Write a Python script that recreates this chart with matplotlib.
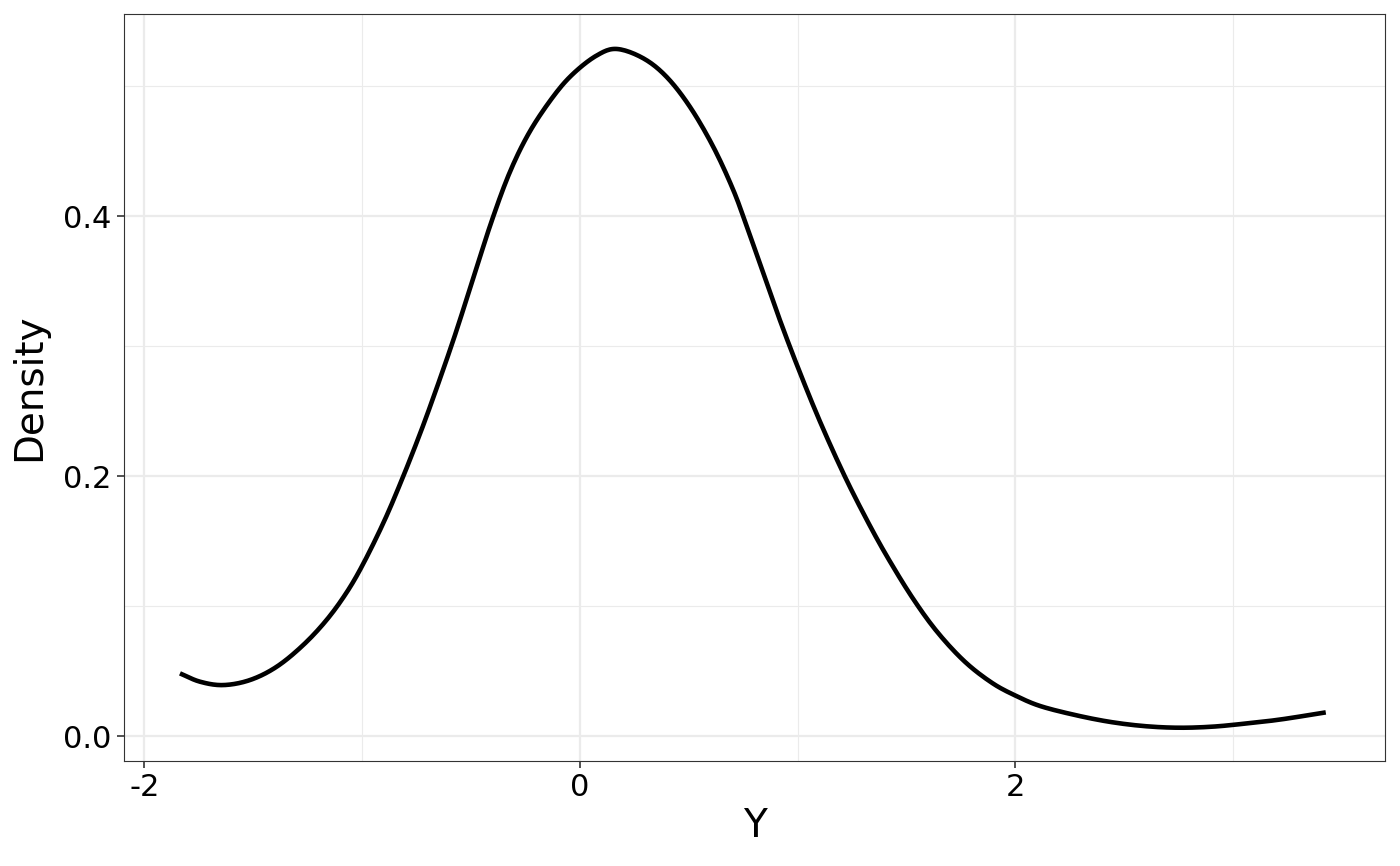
import numpy as np
import matplotlib.pyplot as plt
from matplotlib.ticker import MultipleLocator

# density curve
y_vals = [-1.837, -1.745, -1.638, -1.515, -1.393, -1.271, -1.163, -1.071, -0.995, -0.903,
          -0.827, -0.75, -0.681, -0.582, -0.49, -0.406, -0.321, -0.23, -0.122, -0.031,
          0.077, 0.169, 0.291, 0.398, 0.505, 0.612, 0.704, 0.766, 0.842, 0.918,
          1.003, 1.102, 1.216, 1.326, 1.42, 1.531, 1.642, 1.768, 1.894, 2.005,
          2.115, 2.273, 2.43, 2.588, 2.746, 2.904, 3.062, 3.22, 3.425]
density = [0.0482, 0.0418, 0.0392, 0.0431, 0.0533, 0.070, 0.0894, 0.1106, 0.1326, 0.1639,
           0.1935, 0.2258, 0.2569, 0.3044, 0.3522, 0.3959, 0.4342, 0.4651, 0.4921, 0.5095,
           0.5235, 0.5285, 0.5213, 0.507, 0.484, 0.4533, 0.42, 0.392, 0.356, 0.32,
           0.2826, 0.242, 0.1998, 0.1635, 0.1353, 0.1053, 0.0798, 0.0571, 0.0407, 0.0307,
           0.023, 0.0162, 0.011, 0.0077, 0.0064, 0.0072, 0.0097, 0.0128, 0.0182]

x_ticks = [-2, 0, 2]
x_labels = ['-2', '0', '2']
y_ticks = [0.0, 0.2, 0.4]
y_labels = ['0.0', '0.2', '0.4']

plt.rcParams['font.family'] = ['DejaVu Sans']


def catmull(px, py, n=12):
    # smooth drawing path through the traced points
    px = np.concatenate([[2 * px[0] - px[1]], px, [2 * px[-1] - px[-2]]])
    py = np.concatenate([[2 * py[0] - py[1]], py, [2 * py[-1] - py[-2]]])
    ox, oy = [], []
    for i in range(1, len(px) - 2):
        for s in np.linspace(0, 1, n, endpoint=False):
            for arr, out in ((px, ox), (py, oy)):
                p0, p1, p2, p3 = arr[i - 1], arr[i], arr[i + 1], arr[i + 2]
                out.append(0.5 * (2 * p1 + (-p0 + p2) * s
                                  + (2 * p0 - 5 * p1 + 4 * p2 - p3) * s ** 2
                                  + (-p0 + 3 * p1 - 3 * p2 + p3) * s ** 3))
    ox.append(px[-2])
    oy.append(py[-2])
    return ox, oy


fig = plt.figure(figsize=(14, 8.66), dpi=100)
ax = fig.add_axes([124 / 1400, 1 - 761 / 866, (1385 - 124) / 1400, (761 - 14) / 866])

cx, cy = catmull(np.array(y_vals), np.array(density))
ax.plot(cx, cy, color='black', lw=3.3, solid_capstyle='butt', zorder=3)

ax.set_xlim(-2.094, 3.697)
ax.set_ylim(-0.0192, 0.5554)
ax.set_xticks(x_ticks)
ax.set_xticklabels(x_labels)
ax.set_yticks(y_ticks)
ax.set_yticklabels(y_labels)
ax.xaxis.set_minor_locator(MultipleLocator(1))
ax.yaxis.set_minor_locator(MultipleLocator(0.1))

ax.grid(which='major', color='#EBEBEB', lw=1.6, zorder=0)
ax.grid(which='minor', color='#EBEBEB', lw=0.8, zorder=0)
ax.set_axisbelow(True)
ax.tick_params(which='minor', length=0)
ax.tick_params(which='major', length=5, width=1.2, color='#333333',
               labelsize=22, labelcolor='black', pad=4)

for sp in ax.spines.values():
    sp.set_color('#333333')
    sp.set_linewidth(0.8)

ax.set_xlabel('Y', fontsize=28, labelpad=3)
ax.set_ylabel('Density', fontsize=28, labelpad=11)

fig.savefig('out.png', dpi=100)
